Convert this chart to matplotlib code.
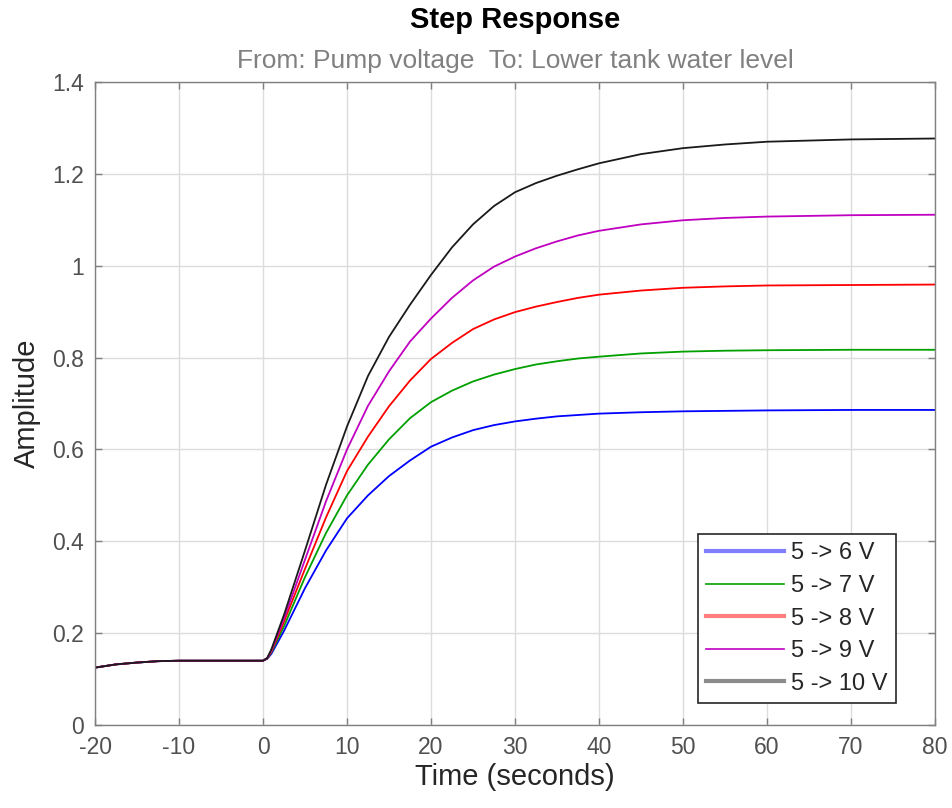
import matplotlib
matplotlib.use('Agg')
import matplotlib.pyplot as plt
from matplotlib.ticker import FuncFormatter

plt.rcParams['font.family'] = ['Liberation Sans', 'DejaVu Sans']
plt.rcParams['axes.unicode_minus'] = False

# shared part before the step
t_pre = [-20, -17.5, -15, -12.5, -10, -5, 0]
y_pre = [0.125, 0.132, 0.136, 0.139, 0.140, 0.140, 0.140]

# step responses
t_post = [0, 0.5, 1, 2.5, 5, 7.5, 10, 12.5, 15, 17.5, 20, 22.5, 25, 27.5, 30, 32.5, 35, 37.5,
          40, 45, 50, 55, 60, 70, 80]
y_6v = [0.14, 0.144, 0.155, 0.205, 0.298, 0.38, 0.45, 0.50, 0.542, 0.576, 0.606, 0.626, 0.642,
        0.653, 0.661, 0.667, 0.672, 0.675, 0.678, 0.681, 0.683, 0.684, 0.685, 0.686, 0.686]
y_7v = [0.14, 0.145, 0.158, 0.215, 0.322, 0.418, 0.50, 0.567, 0.622, 0.668, 0.703, 0.728, 0.748,
        0.763, 0.775, 0.785, 0.792, 0.798, 0.802, 0.809, 0.813, 0.815, 0.816, 0.817, 0.817]
y_8v = [0.14, 0.145, 0.16, 0.225, 0.34, 0.452, 0.553, 0.628, 0.694, 0.75, 0.797, 0.832, 0.862,
        0.883, 0.899, 0.911, 0.921, 0.930, 0.937, 0.946, 0.952, 0.955, 0.957, 0.958, 0.959]
y_9v = [0.14, 0.146, 0.162, 0.232, 0.36, 0.487, 0.60, 0.695, 0.77, 0.835, 0.885, 0.93, 0.968,
        0.998, 1.02, 1.038, 1.053, 1.066, 1.076, 1.09, 1.099, 1.104, 1.107, 1.110, 1.111]
y_10v = [0.14, 0.146, 0.165, 0.24, 0.38, 0.523, 0.65, 0.76, 0.845, 0.915, 0.98, 1.04, 1.09,
         1.13, 1.16, 1.18, 1.196, 1.21, 1.223, 1.243, 1.256, 1.264, 1.27, 1.275, 1.277]

labels = ['5 -> 6 V', '5 -> 7 V', '5 -> 8 V', '5 -> 9 V', '5 -> 10 V']
series = [y_6v, y_7v, y_8v, y_9v, y_10v]
colors = ['#0000ff', '#00a000', '#ff0000', '#c000c0', '#1a1a1a']

fig = plt.figure(figsize=(9.53, 8.08), dpi=100)
ax = fig.add_axes([0.0997, 0.1027, 0.8814, 0.7958])

for ys, c, lab in zip(series, colors, labels):
    ax.plot(t_pre + t_post[1:], y_pre + ys[1:], color=c, lw=1.3, label=lab)

ax.set_xlim(-20, 80)
ax.set_ylim(0, 1.4)
ax.set_xticks(range(-20, 81, 10))
ax.set_yticks([0, 0.2, 0.4, 0.6, 0.8, 1.0, 1.2, 1.4])
ax.yaxis.set_major_formatter(FuncFormatter(lambda v, p: '%g' % round(v, 2)))
ax.xaxis.set_major_formatter(FuncFormatter(lambda v, p: '%g' % v))

ax.grid(True, color='#dcdcdc', lw=1)
ax.set_axisbelow(True)
for s in ax.spines.values():
    s.set_color('#808080')
    s.set_linewidth(1)
ax.tick_params(direction='in', top=True, right=True, length=5, width=1,
               color='#808080', labelcolor='#505050', labelsize=16.5, pad=8)

ax.set_xlabel('Time (seconds)', fontsize=21, color='#262626', labelpad=3)
ax.set_ylabel('Amplitude', fontsize=21, color='#262626', labelpad=8)

fig.text(0.541, 0.975, 'Step Response', ha='center', va='center',
         fontsize=21, fontweight='bold', color='#000000')
fig.text(0.541, 0.925, 'From: Pump voltage  To: Lower tank water level', ha='center', va='center',
         fontsize=19, color='#808080')

leg = ax.legend(loc='lower right', bbox_to_anchor=(0.9536, 0.0342), borderaxespad=0, fontsize=17,
                fancybox=False, framealpha=1, edgecolor='#262626', handlelength=3.3,
                borderpad=0.35, labelspacing=0.45, handletextpad=0.3)
leg.get_frame().set_linewidth(1.2)
for txt in leg.get_texts():
    txt.set_color('#262626')
# legend swatches drawn like in the source figure
leg_style = [(3, 0.5), (1.2, 1), (3, 0.5), (1.2, 1), (3, 0.5)]
for h, (w, a) in zip(leg.get_lines(), leg_style):
    h.set_linewidth(w)
    h.set_alpha(a)

fig.savefig('out.png', dpi=100)
